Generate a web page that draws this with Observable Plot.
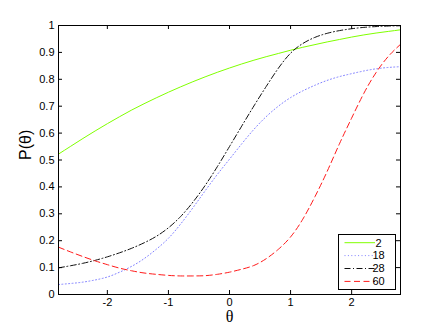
<!DOCTYPE html>
<html><head><meta charset="utf-8">
<script src="https://cdn.jsdelivr.net/npm/d3@7"></script>
<script src="https://cdn.jsdelivr.net/npm/@observablehq/plot@0.6"></script>
<style>body{margin:0;background:#fff}#chart{width:442px;height:332px}</style>
</head><body><div id="chart"></div>
<script>
const theta = [-2.8,-2.6,-2.4,-2.2,-2.0,-1.8,-1.6,-1.4,-1.2,-1.0,-0.8,-0.6,-0.4,-0.2,0.0,0.2,0.4,0.6,0.8,1.0,1.2,1.4,1.6,1.8,2.0,2.2,2.4,2.6,2.8];
const p2  = [0.522,0.551,0.580,0.608,0.635,0.661,0.686,0.709,0.731,0.752,0.772,0.791,0.809,0.826,0.842,0.857,0.871,0.884,0.896,0.908,0.919,0.929,0.939,0.948,0.957,0.965,0.972,0.978,0.984];
const p18 = [0.037,0.041,0.046,0.054,0.065,0.083,0.105,0.133,0.168,0.209,0.262,0.322,0.385,0.446,0.503,0.560,0.614,0.661,0.700,0.732,0.757,0.778,0.796,0.810,0.821,0.831,0.839,0.844,0.847];
const p28 = [0.099,0.107,0.116,0.127,0.140,0.155,0.172,0.192,0.216,0.248,0.290,0.343,0.405,0.475,0.550,0.626,0.701,0.773,0.841,0.897,0.933,0.956,0.971,0.981,0.988,0.993,0.996,0.998,0.999];
const p60 = [0.176,0.158,0.141,0.125,0.111,0.098,0.088,0.080,0.075,0.071,0.069,0.069,0.070,0.075,0.083,0.094,0.108,0.133,0.168,0.214,0.280,0.364,0.458,0.560,0.656,0.748,0.825,0.885,0.930];
const seriesNames = ["2","18","28","60"];
const xTicks = [-2,-1,0,1,2];
const xTickLabels = ["-2","-1","0","1","2"];
const yTicks = [0,0.1,0.2,0.3,0.4,0.5,0.6,0.7,0.8,0.9,1];
const yTickLabels = ["0","0.1","0.2","0.3","0.4","0.5","0.6","0.7","0.8","0.9","1"];
const xLabel = "θ";
const yLabel = "P(θ)";

const seriesValues = [p2, p18, p28, p60];
const colors = ["#80ff00", "#8080ff", "#111111", "#ff1a1a"];
const dashes = [null, "1,2.4", "6,2.5,1,2.5", "6,3.5"];

const W = 442, H = 332, ML = 58, MR = 42, MT = 25, MB = 38;
const frameW = W - ML - MR, frameH = H - MT - MB, TS = 4;

const rows = seriesValues.map(vals => theta.map((t, i) => ({theta: t, p: vals[i]})));

function legendMark(index, scales, values, dims) {
  const right = dims.width - dims.marginRight - 5;
  const bottom = dims.height - dims.marginBottom - 5;
  const w = 57, h = 55, left = right - w, top = bottom - h;
  const g = d3.create("svg:g");
  g.append("rect").attr("x", left + 0.5).attr("y", top + 0.5).attr("width", w).attr("height", h)
    .attr("fill", "white").attr("stroke", "black").attr("stroke-width", 1);
  seriesNames.forEach((name, i) => {
    const yy = top + 8.7 + i * 12.9;
    g.append("line").attr("x1", left + 6.5).attr("x2", left + 37).attr("y1", yy).attr("y2", yy)
      .attr("stroke", colors[i]).attr("stroke-width", 1).attr("stroke-dasharray", dashes[i]);
    g.append("text").attr("x", left + 40.5).attr("y", yy).attr("dy", "0.35em")
      .attr("font-size", 11).attr("fill", "black").text(name);
  });
  return g.node();
}

const chart = Plot.plot({
  width: W, height: H, marginLeft: ML, marginRight: MR, marginTop: MT, marginBottom: MB,
  style: {fontFamily: "'Liberation Sans', Arial, sans-serif", fontSize: "11px", background: "white", color: "black", overflow: "visible"},
  x: {domain: [-2.8, 2.8]},
  y: {domain: [0, 1]},
  marks: [
    Plot.axisX(xTicks, {tickSize: 0, tickPadding: 4, tickFormat: d => xTickLabels[xTicks.indexOf(d)], label: null, fontSize: 11}),
    Plot.axisY(yTicks, {tickSize: 0, tickPadding: 4, tickFormat: d => yTickLabels[yTicks.indexOf(d)], label: null, fontSize: 11}),
    ...rows.map((r, i) => Plot.line(r, {x: "theta", y: "p", stroke: colors[i], strokeWidth: 1, strokeDasharray: dashes[i], curve: "natural"})),
    Plot.tickX(xTicks, {x: d => d, insetTop: frameH - TS, stroke: "black"}),
    Plot.tickX(xTicks, {x: d => d, insetBottom: frameH - TS, stroke: "black"}),
    Plot.tickY(yTicks, {y: d => d, insetRight: frameW - TS, stroke: "black"}),
    Plot.tickY(yTicks, {y: d => d, insetLeft: frameW - TS, stroke: "black"}),
    Plot.frame({stroke: "black"}),
    Plot.text([yLabel], {text: d => d, frameAnchor: "left", dx: -33, rotate: -90, fontSize: 16, fill: "black"}),
    Plot.text([xLabel], {text: d => d, frameAnchor: "bottom", dy: 27.5, fontSize: 16, fill: "black", fontFamily: "'Liberation Serif', serif"}),
    legendMark
  ]
});
document.getElementById("chart").appendChild(chart);
</script>
</body></html>
